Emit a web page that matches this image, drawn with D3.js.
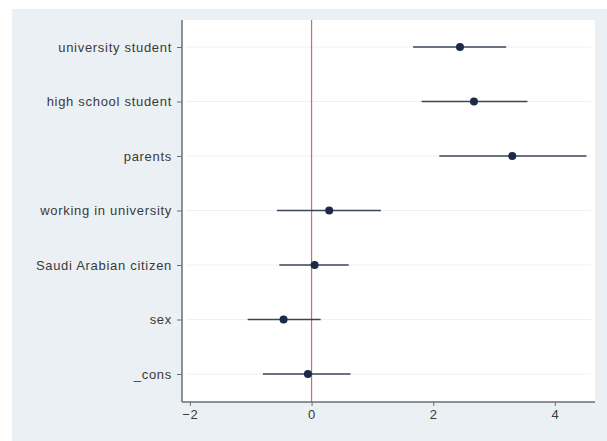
<!DOCTYPE html>
<html lang="en">
<head>
    <meta charset="UTF-8">
    <title>Coefficient Plot</title>
    <script src="https://d3js.org/d3.v7.min.js"></script>
    <style>
        body { margin: 0; background: #fff; }
        svg { display: block; font-family: "Liberation Sans", Arial, sans-serif; }
    </style>
</head>
<body>
    <div id="chart"></div>

    <script>
        // Coefficients and 95% confidence intervals
        const terms = ["university student", "high school student", "parents",
            "working in university", "Saudi Arabian citizen", "sex", "_cons"];
        const estimates = [2.44, 2.67, 3.30, 0.29, 0.05, -0.46, -0.06];
        const lower = [1.67, 1.81, 2.10, -0.57, -0.53, -1.05, -0.80];
        const upper = [3.20, 3.55, 4.52, 1.14, 0.61, 0.15, 0.64];
        const xTicks = [-2, 0, 2, 4];

        const data = terms.map((t, i) => ({ term: t, b: estimates[i], lo: lower[i], hi: upper[i] }));

        const width = 607, height = 441;
        const margin = { top: 20, right: 12, bottom: 39, left: 182 };

        const svg = d3.select("#chart")
            .append("svg")
            .attr("width", width)
            .attr("height", height);

        // outer panel
        svg.append("rect")
            .attr("x", 12).attr("y", 9)
            .attr("width", width - 12).attr("height", height - 9)
            .attr("fill", "#eaf0f3");

        const x = d3.scaleLinear()
            .domain([-2.13, 4.66])
            .range([margin.left, width - margin.right]);

        const y = d3.scalePoint()
            .domain(terms)
            .range([47, 374]);

        // plot area
        svg.append("rect")
            .attr("x", margin.left).attr("y", margin.top)
            .attr("width", width - margin.right - margin.left)
            .attr("height", height - margin.bottom - margin.top)
            .attr("fill", "#ffffff");

        // grid lines
        svg.append("g")
            .selectAll("line")
            .data(terms)
            .join("line")
            .attr("x1", margin.left + 4)
            .attr("x2", width - margin.right - 4)
            .attr("y1", d => y(d))
            .attr("y2", d => y(d))
            .attr("stroke", "#eef1f2")
            .attr("stroke-width", 1);

        // reference line at zero
        svg.append("line")
            .attr("x1", x(0)).attr("x2", x(0))
            .attr("y1", margin.top).attr("y2", height - margin.bottom)
            .attr("stroke", "#c2707a")
            .attr("stroke-width", 1.2);

        // axes
        const xAxis = svg.append("g")
            .attr("transform", `translate(0,${height - margin.bottom})`)
            .call(d3.axisBottom(x).tickValues(xTicks).tickFormat(d3.format("d"))
                .tickSize(4).tickPadding(4).tickSizeOuter(0));

        const yAxis = svg.append("g")
            .attr("transform", `translate(${margin.left},0)`)
            .call(d3.axisLeft(y).tickSize(5).tickPadding(5).tickSizeOuter(0));

        [xAxis, yAxis].forEach(g => {
            g.select(".domain").attr("stroke", "#6b6f72").attr("stroke-width", 1.5);
            g.selectAll(".tick line").attr("stroke", "#6b6f72");
            g.selectAll(".tick text").attr("fill", "#3a3a3a")
                .attr("font-size", 13).attr("letter-spacing", 0.7);
        });
        // axis lines run the full plot area
        yAxis.select(".domain").attr("d", `M0,${margin.top}V${height - margin.bottom}`);
        xAxis.select(".domain").attr("d", `M${margin.left},0H${width - margin.right}`);

        // confidence intervals
        svg.append("g")
            .selectAll("line")
            .data(data)
            .join("line")
            .attr("x1", d => x(d.lo))
            .attr("x2", d => x(d.hi))
            .attr("y1", d => y(d.term))
            .attr("y2", d => y(d.term))
            .attr("stroke", "#3b4557")
            .attr("stroke-width", 1.5);

        // point estimates
        svg.append("g")
            .selectAll("circle")
            .data(data)
            .join("circle")
            .attr("cx", d => x(d.b))
            .attr("cy", d => y(d.term))
            .attr("r", 4)
            .attr("fill", "#1c2a48");
    </script>
</body>
</html>
